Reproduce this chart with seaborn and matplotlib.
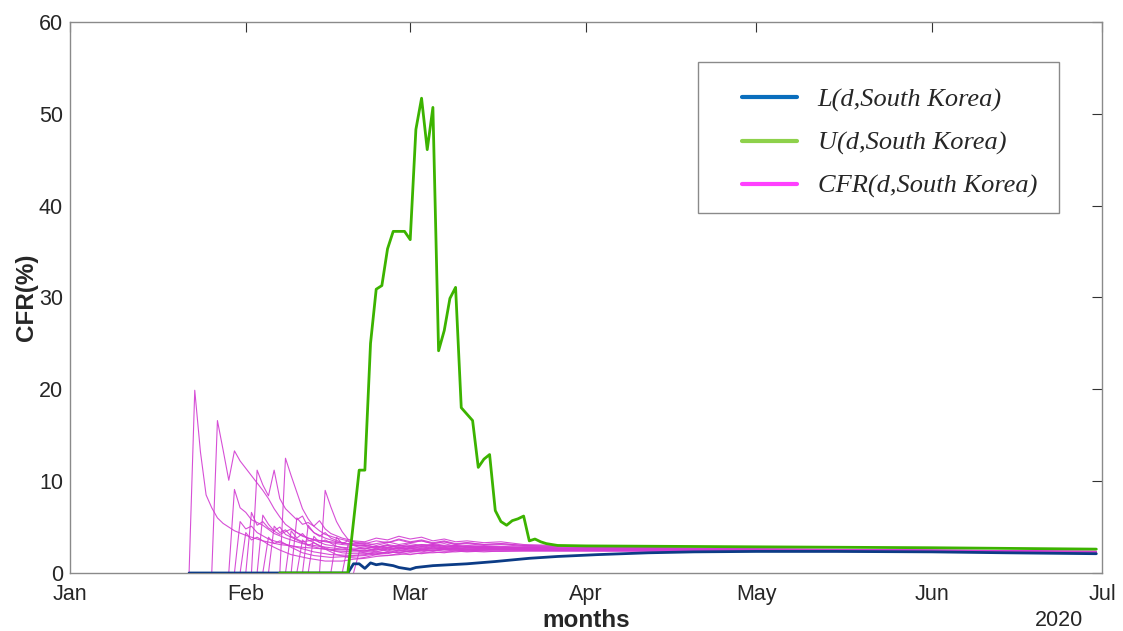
import numpy as np
import pandas as pd
import seaborn as sns
import matplotlib
matplotlib.use("Agg")
from matplotlib import pyplot as plt
from matplotlib.lines import Line2D
from matplotlib.patches import Rectangle

# days are counted from 1 Jan 2020
month_days = [0, 31, 60, 91, 121, 152, 182]
month_labels = ["Jan", "Feb", "Mar", "Apr", "May", "Jun", "Jul"]
y_ticks = [0, 10, 20, 30, 40, 50, 60]

# lower bound L(d, South Korea)
l_days = [21, 49, 50, 51, 52, 53, 54, 55, 56, 57, 58, 59, 60, 61, 64, 70, 75, 81,
          86, 93, 102, 110, 121, 135, 152, 165, 181]
l_vals = [0, 0, 1.0, 1.0, 0.5, 1.1, 0.9, 1.0, 0.9, 0.8, 0.6, 0.5, 0.4, 0.6, 0.8, 1.0,
          1.25, 1.6, 1.8, 2.0, 2.2, 2.3, 2.35, 2.35, 2.3, 2.2, 2.1]

# upper bound U(d, South Korea)
u_days = [37, 49, 51, 52, 53, 54, 55, 56, 57, 58, 59, 60, 61, 62, 63, 64, 65, 66, 67,
          68, 69, 70, 71, 72, 73, 74, 75, 76, 77, 78, 79, 80, 81, 82, 83, 84, 86, 91,
          121, 152, 181]
u_vals = [0, 0, 11.2, 11.2, 25.0, 30.9, 31.3, 35.3, 37.2, 37.2, 37.2, 36.3, 48.3, 51.7,
          46.1, 50.7, 24.2, 26.4, 29.9, 31.1, 18.0, 17.3, 16.6, 11.5, 12.4, 12.9, 6.8,
          5.6, 5.2, 5.7, 5.9, 6.2, 3.5, 3.7, 3.4, 3.2, 3.0, 2.95, 2.85, 2.75, 2.6]

# CFR(d, South Korea) runs: early part as (day, value), then a shared tail grid
cfr_01 = [(21, 0), (22, 19.9), (23, 13.2), (24, 8.5), (25, 7.1), (26, 6.0), (27, 5.4),
          (29, 4.6), (31, 4.1), (34, 3.5), (37, 3.1), (41, 2.8), (45, 2.6), (49, 2.5)]
cfr_02 = [(25, 0), (26, 16.6), (27, 13.4), (28, 10.1), (29, 13.3), (30, 12.2), (31, 11.4),
          (32, 10.6), (33, 9.8), (34, 9.0), (35, 8.1), (36, 7.0), (37, 6.1), (38, 5.3),
          (40, 4.4), (42, 3.8), (45, 3.4), (48, 3.1), (50, 3.0)]
cfr_03 = [(28, 0), (29, 9.1), (30, 7.1), (31, 6.6), (32, 5.8), (34, 5.2), (36, 4.3),
          (38, 3.8), (41, 3.2), (44, 2.9), (48, 2.6), (50, 2.5)]
cfr_04 = [(29, 0), (30, 5.6), (31, 4.8), (32, 5.1), (33, 4.4), (35, 3.7), (37, 3.3),
          (40, 2.8), (43, 2.3), (46, 2.0), (50, 1.9)]
cfr_05 = [(30, 0), (31, 4.4), (32, 3.6), (33, 3.9), (35, 3.1), (37, 2.5), (39, 2.0),
          (42, 1.6), (45, 1.3), (48, 1.3), (50, 1.5)]
cfr_06 = [(31, 0), (32, 6.6), (33, 5.2), (34, 5.6), (35, 4.9), (37, 4.2), (39, 4.8),
          (41, 4.0), (43, 3.6), (46, 3.4), (49, 3.2)]
cfr_07 = [(32, 0), (33, 11.2), (34, 9.6), (35, 8.4), (36, 11.2), (37, 8.1), (38, 7.0),
          (39, 6.4), (40, 5.8), (41, 6.2), (42, 5.0), (43, 4.4), (45, 3.8), (47, 3.4),
          (50, 3.1)]
cfr_08 = [(33, 0), (34, 6.3), (35, 5.3), (36, 4.6), (37, 5.0), (38, 4.2), (40, 3.6),
          (42, 3.0), (44, 2.7), (47, 2.4), (50, 2.3)]
cfr_09 = [(34, 0), (35, 3.9), (36, 3.2), (37, 3.5), (39, 2.8), (41, 2.2), (43, 1.9),
          (46, 1.7), (49, 1.8)]
cfr_10 = [(35, 0), (36, 5.1), (37, 4.4), (38, 4.7), (39, 4.0), (41, 3.4), (43, 3.6),
          (45, 3.1), (48, 2.8), (50, 2.7)]
cfr_11 = [(37, 0), (38, 12.5), (39, 10.6), (40, 8.8), (41, 7.0), (42, 5.9), (43, 5.1),
          (44, 4.6), (45, 4.2), (47, 3.8), (49, 3.5), (51, 3.3)]
cfr_12 = [(38, 0), (39, 4.6), (40, 3.8), (41, 4.3), (42, 3.6), (44, 3.0), (46, 2.5),
          (48, 2.2), (50, 2.1)]
cfr_13 = [(39, 0), (40, 6.0), (41, 5.3), (42, 5.5), (43, 5.1), (44, 5.7), (45, 4.8),
          (46, 4.3), (48, 3.8), (50, 3.5)]
cfr_14 = [(40, 0), (41, 3.6), (42, 3.0), (43, 3.3), (45, 2.6), (47, 2.0), (49, 1.7),
          (51, 1.6)]
cfr_15 = [(41, 0), (42, 5.2), (43, 4.4), (44, 4.0), (45, 4.4), (46, 3.8), (48, 3.3),
          (50, 3.0)]
cfr_16 = [(42, 0), (43, 4.0), (44, 3.3), (45, 3.6), (47, 2.9), (49, 2.6), (51, 2.4)]
cfr_17 = [(44, 0), (45, 9.0), (46, 7.2), (47, 5.6), (48, 4.5), (49, 3.7), (50, 3.4),
          (51, 3.2)]
cfr_18 = [(46, 0), (47, 3.9), (48, 3.2), (49, 3.5), (50, 3.0), (51, 2.8)]
cfr_19 = [(48, 0), (49, 3.0), (50, 2.5), (51, 2.7)]
cfr_20 = [(50, 0), (51, 2.3)]

tail_days = [52, 54, 56, 58, 60, 62, 64, 66, 68, 70, 73, 76, 80, 86, 91, 105, 121, 152, 181]
cfr_tails = [
    [2.5, 2.3, 2.6, 2.4, 2.7, 2.5, 2.8, 2.6, 2.7, 2.6, 2.7, 2.6, 2.6, 2.5, 2.5, 2.5, 2.45, 2.35, 2.25],
    [3.0, 3.2, 3.4, 3.1, 3.3, 3.5, 3.2, 3.4, 3.1, 3.3, 3.1, 3.2, 3.0, 2.9, 2.8, 2.7, 2.6, 2.45, 2.35],
    [2.4, 2.7, 2.5, 2.8, 2.6, 2.9, 2.7, 2.8, 2.6, 2.8, 2.7, 2.6, 2.7, 2.6, 2.6, 2.5, 2.45, 2.4, 2.3],
    [2.0, 2.2, 2.1, 2.4, 2.3, 2.5, 2.4, 2.6, 2.5, 2.4, 2.5, 2.5, 2.5, 2.45, 2.45, 2.4, 2.4, 2.35, 2.25],
    [1.6, 1.8, 1.9, 2.0, 2.2, 2.1, 2.3, 2.2, 2.4, 2.3, 2.4, 2.35, 2.4, 2.4, 2.4, 2.4, 2.35, 2.3, 2.2],
    [3.2, 3.5, 3.3, 3.7, 3.4, 3.6, 3.3, 3.5, 3.2, 3.3, 3.1, 3.2, 3.0, 2.9, 2.8, 2.7, 2.6, 2.5, 2.35],
    [3.0, 2.8, 3.1, 2.9, 3.2, 3.0, 3.1, 2.9, 3.0, 2.9, 2.9, 2.8, 2.8, 2.7, 2.7, 2.6, 2.55, 2.45, 2.3],
    [2.3, 2.5, 2.7, 2.6, 2.8, 2.7, 2.9, 2.7, 2.8, 2.7, 2.8, 2.7, 2.7, 2.6, 2.6, 2.55, 2.5, 2.4, 2.3],
    [1.9, 2.1, 2.3, 2.2, 2.4, 2.5, 2.4, 2.6, 2.5, 2.6, 2.5, 2.6, 2.5, 2.5, 2.45, 2.45, 2.4, 2.35, 2.25],
    [2.7, 2.9, 2.8, 3.0, 2.9, 3.1, 3.0, 3.2, 2.9, 3.0, 2.9, 2.9, 2.8, 2.75, 2.7, 2.6, 2.55, 2.45, 2.3],
    [3.3, 3.0, 3.3, 3.6, 3.3, 3.5, 3.2, 3.4, 3.1, 3.2, 3.0, 3.1, 2.9, 2.85, 2.8, 2.7, 2.6, 2.5, 2.35],
    [2.1, 2.3, 2.2, 2.5, 2.4, 2.6, 2.5, 2.6, 2.6, 2.5, 2.6, 2.6, 2.6, 2.5, 2.5, 2.5, 2.45, 2.35, 2.25],
    [3.4, 3.8, 3.6, 4.0, 3.7, 3.9, 3.5, 3.7, 3.4, 3.5, 3.3, 3.4, 3.1, 3.0, 2.9, 2.75, 2.65, 2.5, 2.35],
    [1.7, 2.0, 1.9, 2.1, 2.0, 2.2, 2.2, 2.3, 2.3, 2.4, 2.3, 2.4, 2.4, 2.4, 2.4, 2.4, 2.4, 2.3, 2.2],
    [2.9, 2.7, 3.0, 2.8, 3.0, 2.9, 3.1, 2.9, 3.0, 2.8, 2.9, 2.8, 2.8, 2.7, 2.65, 2.6, 2.5, 2.45, 2.3],
    [2.4, 2.6, 2.4, 2.7, 2.5, 2.7, 2.6, 2.7, 2.7, 2.6, 2.7, 2.6, 2.6, 2.55, 2.55, 2.5, 2.45, 2.4, 2.25],
    [3.1, 2.8, 3.0, 2.7, 2.9, 2.8, 3.0, 2.8, 2.9, 2.8, 2.8, 2.7, 2.7, 2.65, 2.6, 2.55, 2.5, 2.4, 2.3],
    [2.7, 2.5, 2.8, 2.6, 2.7, 2.5, 2.7, 2.6, 2.7, 2.6, 2.6, 2.6, 2.6, 2.55, 2.5, 2.5, 2.45, 2.35, 2.25],
    [2.6, 2.9, 2.7, 3.0, 2.8, 3.1, 2.9, 3.0, 2.8, 2.9, 2.8, 2.8, 2.75, 2.7, 2.65, 2.6, 2.5, 2.4, 2.3],
    [2.2, 2.0, 2.3, 2.2, 2.4, 2.3, 2.5, 2.4, 2.5, 2.4, 2.5, 2.5, 2.5, 2.45, 2.45, 2.45, 2.4, 2.35, 2.25],
]
cfr_heads = [cfr_01, cfr_02, cfr_03, cfr_04, cfr_05, cfr_06, cfr_07, cfr_08, cfr_09,
             cfr_10, cfr_11, cfr_12, cfr_13, cfr_14, cfr_15, cfr_16, cfr_17, cfr_18,
             cfr_19, cfr_20]

legend_labels = ["L(d,South Korea)", "U(d,South Korea)", "CFR(d,South Korea)"]

start = pd.Timestamp("2020-01-01")


def to_dates(days):
    return start + pd.to_timedelta(np.asarray(days, dtype=float), unit="D")


# build one long frame for all CFR runs
frames = []
for k, (head, tail) in enumerate(zip(cfr_heads, cfr_tails)):
    days = [d for d, v in head] + tail_days
    vals = [v for d, v in head] + tail
    frames.append(pd.DataFrame({"date": to_dates(days), "cfr": vals, "run": k}))
cfr_df = pd.concat(frames, ignore_index=True)

sns.set_style("white")
plt.rcParams["font.family"] = ["Liberation Sans", "DejaVu Sans"]

fig = plt.figure(figsize=(11.23, 6.31), dpi=100)
ax = fig.add_axes([70 / 1123, 58 / 631, 1032 / 1123, 551 / 631])

sns.lineplot(data=cfr_df, x="date", y="cfr", units="run", estimator=None, sort=False,
             color="#d23cd2", lw=0.8, alpha=0.9, ax=ax, legend=False, zorder=2)
sns.lineplot(x=to_dates(l_days), y=l_vals, color="#0c3c86", lw=2.0, ax=ax, zorder=3)
sns.lineplot(x=to_dates(u_days), y=u_vals, color="#3cb300", lw=2.0, ax=ax, zorder=4)

ax.set_xlim(to_dates([0])[0], to_dates([182])[0])
ax.set_ylim(0, 60)
ax.set_xticks(to_dates(month_days))
ax.set_xticklabels(month_labels)
ax.set_yticks(y_ticks)
ax.tick_params(axis="both", direction="in", length=7, width=0.8, color="#333333",
               labelsize=15.5, top=True, right=True)
ax.tick_params(axis="x", pad=8)
ax.tick_params(axis="y", pad=5)
for s in ax.spines.values():
    s.set_color("#8a8a8a")
    s.set_linewidth(1.0)

ax.set_xlabel("months", fontsize=17.5, fontweight="bold", labelpad=3)
ax.set_ylabel("CFR(%)", fontsize=17.5, fontweight="bold", labelpad=1)
fig.text(1083 / 1123, 1 - 620 / 631, "2020", fontsize=15.5, ha="right", va="center")

# legend box drawn separately, MATLAB style
ax.add_patch(Rectangle((0.6085, 0.653), 0.3497, 0.274, transform=ax.transAxes,
                       facecolor="white", edgecolor="#8a8a8a", lw=1.0, zorder=5))
handles = [Line2D([], [], color="#0a6ebd", lw=3),
           Line2D([], [], color="#8ed14b", lw=3),
           Line2D([], [], color="#ff40ff", lw=3)]
leg = ax.legend(handles, legend_labels, loc="upper left", bbox_to_anchor=(0.6512, 0.880),
                frameon=False, borderpad=0, borderaxespad=0, handlelength=2.1,
                handletextpad=0.76, labelspacing=0.73,
                prop={"family": "Liberation Serif", "style": "italic", "size": 19})
leg.set_zorder(6)

fig.savefig("out.png", dpi=100)
